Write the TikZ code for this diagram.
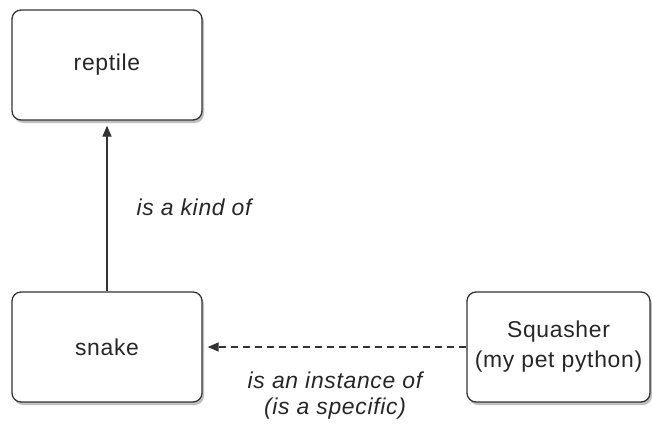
\documentclass[tikz,border=0pt]{standalone}
\usepackage{fontspec}
\setmainfont{Liberation Sans}[LetterSpace=3]
\usetikzlibrary{arrows.meta,shadows}

\begin{document}
\begin{tikzpicture}[x=1bp,y=1bp,
        box/.style={draw=black!80, line width=1.3bp, rounded corners=9bp, fill=white,
            minimum width=190bp, minimum height=110bp, align=center,
            font=\fontsize{23}{30}\selectfont, text=black!85,
            drop shadow={shadow xshift=2bp, shadow yshift=-3bp, opacity=0.5}},
        rel/.style={line width=1.3bp, draw=black!80, -{Triangle[length=11bp,width=9bp]}, shorten >=5bp},
        lbl/.style={font=\fontsize{23}{26}\selectfont\itshape, text=black!85, align=center}]
        \useasboundingbox (0,0) rectangle (652,432);

        \node[box](reptile)at(107,367){reptile};
        \node[box](snake)at(107,85){snake};
        \node[box, minimum width=183bp](squasher)at(558.5,85){Squasher\\(my pet python)};

        \draw[rel](snake)--(reptile);
        \draw[rel, dashed, dash pattern=on 7bp off 5bp](squasher)--(snake);

        \node[lbl, anchor=west](kind)at(133,225){is a kind of};
        \node[lbl](instance)at(335,36){is an instance of\\(is a specific)};
    \end{tikzpicture}
\end{document}
